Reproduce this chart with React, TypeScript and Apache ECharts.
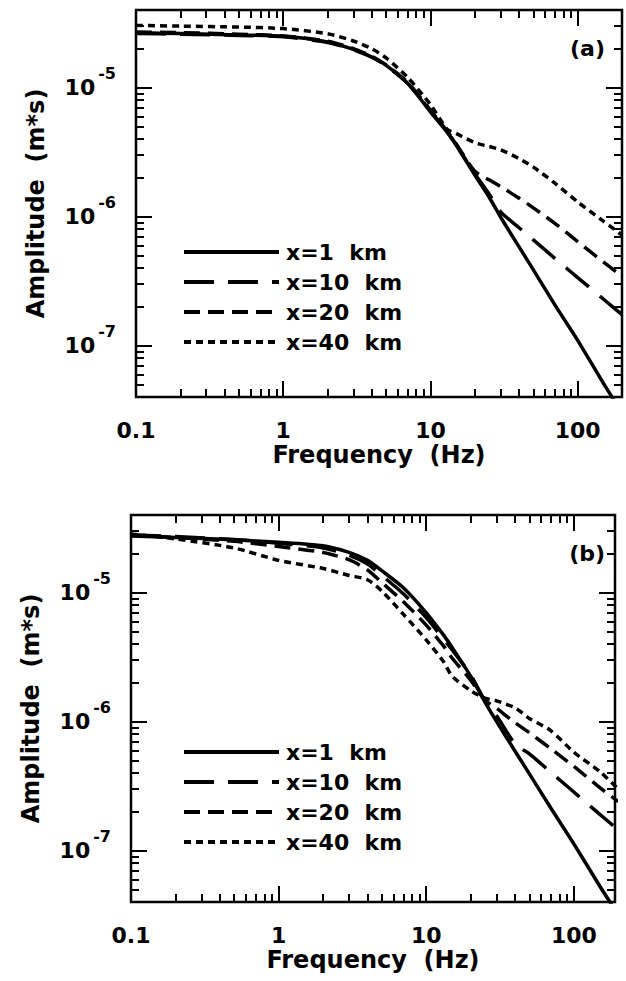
import React, { useEffect, useRef } from 'react';
import * as echarts from 'echarts';

// ---------- data ----------
const FREQ = [0.1, 0.2, 0.5, 1, 2, 3, 4, 5, 7, 10, 13, 15, 20, 25, 30, 40, 50, 70, 100, 150, 200];
const NAMES = ['x=1  km', 'x=10  km', 'x=20  km', 'x=40  km'];

// panel (a)
const A_X1 = [2.66e-5, 2.63e-5, 2.56e-5, 2.5e-5, 2.26e-5, 1.98e-5, 1.73e-5, 1.49e-5, 1.08e-5, 6.5e-6, 4.5e-6, 3.56e-6, 2.1e-6, 1.42e-6, 9.9e-7, 5.83e-7, 3.87e-7, 2.07e-7, 1.1e-7, 5.08e-8, 3.03e-8];
const A_X10 = [2.63e-5, 2.6e-5, 2.54e-5, 2.48e-5, 2.24e-5, 1.97e-5, 1.72e-5, 1.48e-5, 1.08e-5, 6.6e-6, 4.55e-6, 3.6e-6, 2.15e-6, 1.5e-6, 1.09e-6, 8.2e-7, 6.6e-7, 4.75e-7, 3.37e-7, 2.29e-7, 1.74e-7];
const A_X20 = [2.7e-5, 2.67e-5, 2.6e-5, 2.52e-5, 2.29e-5, 2.01e-5, 1.75e-5, 1.5e-5, 1.1e-5, 6.7e-6, 4.6e-6, 3.65e-6, 2.25e-6, 1.93e-6, 1.71e-6, 1.39e-6, 1.17e-6, 8.87e-7, 6.41e-7, 4.44e-7, 3.44e-7];
const A_X40 = [3.04e-5, 3.0e-5, 2.95e-5, 2.87e-5, 2.62e-5, 2.3e-5, 2.0e-5, 1.7e-5, 1.2e-5, 7.4e-6, 4.75e-6, 4.4e-6, 3.75e-6, 3.5e-6, 3.3e-6, 2.82e-6, 2.42e-6, 1.82e-6, 1.3e-6, 9.2e-7, 7.2e-7];

// panel (b)
const B_X1 = [2.75e-5, 2.68e-5, 2.57e-5, 2.46e-5, 2.31e-5, 2.05e-5, 1.78e-5, 1.48e-5, 1.09e-5, 6.98e-6, 4.75e-6, 3.75e-6, 2.25e-6, 1.42e-6, 1.0e-6, 5.9e-7, 3.94e-7, 2.13e-7, 1.13e-7, 5.3e-8, 3.18e-8];
const B_X10 = [2.8e-5, 2.72e-5, 2.58e-5, 2.42e-5, 2.22e-5, 1.95e-5, 1.67e-5, 1.36e-5, 9.8e-6, 6.4e-6, 4.4e-6, 3.6e-6, 2.3e-6, 1.45e-6, 1.11e-6, 6.7e-7, 5.62e-7, 4.04e-7, 2.85e-7, 1.91e-7, 1.45e-7];
const B_X20 = [2.8e-5, 2.68e-5, 2.5e-5, 2.28e-5, 2.05e-5, 1.8e-5, 1.5e-5, 1.2e-5, 8.5e-6, 5.6e-6, 3.9e-6, 3.1e-6, 2.1e-6, 1.47e-6, 1.27e-6, 9.8e-7, 8.2e-7, 6.16e-7, 4.5e-7, 3.08e-7, 2.4e-7];
const B_X40 = [2.85e-5, 2.61e-5, 2.22e-5, 1.78e-5, 1.54e-5, 1.36e-5, 1.26e-5, 1.03e-5, 6.8e-6, 4.3e-6, 2.95e-6, 2.25e-6, 1.74e-6, 1.52e-6, 1.45e-6, 1.28e-6, 1.06e-6, 8.5e-7, 5.8e-7, 4.1e-7, 3.0e-7];

// axes
const X_MIN = 0.1;
const X_MAX_A = 200;
const X_MAX_B = 190;
const Y_MIN = 4e-8;
const Y_MAX = 4e-5;
const X_MAJOR_TICKS = [1, 10, 100];
const X_MINOR_TICKS = [0.2, 0.3, 0.4, 0.5, 0.6, 0.7, 0.8, 0.9, 2, 3, 4, 5, 6, 7, 8, 9, 20, 30, 40, 50, 60, 70, 80, 90];
const Y_MAJOR_TICKS = [1e-7, 1e-6, 1e-5];
const Y_MINOR_TICKS = [5e-8, 6e-8, 7e-8, 8e-8, 9e-8, 2e-7, 3e-7, 4e-7, 5e-7, 6e-7, 7e-7, 8e-7, 9e-7, 2e-6, 3e-6, 4e-6, 5e-6, 6e-6, 7e-6, 8e-6, 9e-6, 2e-5, 3e-5];
const PANEL_LABELS = ['(a)', '(b)'];

// ---------- layout & styling ----------
const GRID_A = { left: 136, top: 10, width: 486, height: 387 };
const GRID_B = { left: 131, top: 515, width: 484, height: 387 };
const FONT = '"DejaVu Sans", "Liberation Sans", sans-serif';
const DASHES: any[] = ['solid', [30, 14], [16, 8], [7, 5]];
const MAJOR_LEN = 16;
const MINOR_LEN = 8;

const xFmt = (v: number) => {
  const e = Math.log10(v);
  const r = Math.round(e);
  if (Math.abs(e - r) > 1e-6) return '';
  return r < 0 ? Number(v).toFixed(-r) : String(Math.round(v));
};
const yFmt = (v: number) => {
  const e = Math.log10(v);
  const r = Math.round(e);
  if (Math.abs(e - r) > 1e-6) return '';
  return `{b|10}{s|${r}}`;
};

function makeXAxis(gridIndex: number, max: number) {
  return {
    type: 'log', logBase: 10, gridIndex, min: X_MIN, max,
    axisLine: { show: false, onZero: false }, axisTick: { show: false }, splitLine: { show: false },
    axisLabel: {
      margin: 22, fontSize: 22, fontWeight: 'bold', fontFamily: FONT, color: '#000',
      showMinLabel: true, showMaxLabel: true, formatter: xFmt,
    },
    name: 'Frequency  (Hz)', nameLocation: 'middle', nameGap: 46,
    nameTextStyle: { fontSize: 24, fontWeight: 'bold', fontFamily: FONT, color: '#000' },
  };
}
function makeYAxis(gridIndex: number) {
  return {
    type: 'log', logBase: 10, gridIndex, min: Y_MIN, max: Y_MAX,
    axisLine: { show: false, onZero: false }, axisTick: { show: false }, splitLine: { show: false },
    axisLabel: {
      margin: 20, color: '#000', fontFamily: FONT, showMinLabel: true, showMaxLabel: true,
      formatter: yFmt,
      rich: {
        b: { fontSize: 22, fontWeight: 'bold', fontFamily: FONT, color: '#000', lineHeight: 22, padding: [11, 0, 11, 0] },
        s: { fontSize: 16, fontWeight: 'bold', fontFamily: FONT, color: '#000', lineHeight: 16, padding: [0, 0, 28, 3] },
      },
    },
    name: 'Amplitude  (m*s)', nameLocation: 'middle', nameGap: 88, nameRotate: 90,
    nameTextStyle: { fontSize: 24, fontWeight: 'bold', fontFamily: FONT, color: '#000' },
  };
}

// inward tick marks on all four sides, as mark lines placed on the log axes
function tickMarkLine(xMax: number, grid: { width: number; height: number }) {
  const kx = (len: number) => Math.pow(10, (len * Math.log10(xMax / X_MIN)) / grid.width);
  const ky = (len: number) => Math.pow(10, (len * Math.log10(Y_MAX / Y_MIN)) / grid.height);
  const eps = 1.0005;
  const lo = Y_MIN * eps, hi = Y_MAX / eps, xl = X_MIN * eps, xh = xMax / eps;
  const data: any[] = [];
  const xt = [...X_MAJOR_TICKS.map((v) => [v, MAJOR_LEN]), ...X_MINOR_TICKS.map((v) => [v, MINOR_LEN])]
    .filter((d) => d[0] > X_MIN && d[0] < xMax);
  xt.forEach(([v, len]) => {
    data.push([{ coord: [v, lo] }, { coord: [v, Y_MIN * ky(len)] }]);
    data.push([{ coord: [v, hi] }, { coord: [v, Y_MAX / ky(len)] }]);
  });
  const yt = [...Y_MAJOR_TICKS.map((v) => [v, MAJOR_LEN]), ...Y_MINOR_TICKS.map((v) => [v, MINOR_LEN])]
    .filter((d) => d[0] > Y_MIN && d[0] < Y_MAX);
  yt.forEach(([v, len]) => {
    data.push([{ coord: [xl, v] }, { coord: [X_MIN * kx(len), v] }]);
    data.push([{ coord: [xh, v] }, { coord: [xMax / kx(len), v] }]);
  });
  return {
    silent: true, animation: false,
    symbol: ['none', 'none'],
    label: { show: false },
    emphasis: { disabled: true },
    lineStyle: { color: '#000', width: 2, type: 'solid', opacity: 1 },
    data,
  };
}

function lineSeries(idx: number, arrays: number[][], xMax: number, grid: { width: number; height: number }) {
  return arrays.map((arr, k) => ({
    type: 'line', name: NAMES[k], xAxisIndex: idx, yAxisIndex: idx,
    data: FREQ.map((f, i) => [f, arr[i]]),
    symbol: 'none', smooth: 0.25,
    lineStyle: { color: '#000', width: 3.5, type: DASHES[k] },
    itemStyle: { color: '#000' },
    z: 3,
    ...(k === 0 ? { markLine: tickMarkLine(xMax, grid) } : {}),
  }));
}

function legend(top: number) {
  return {
    data: NAMES, orient: 'vertical', left: 177, top,
    itemWidth: 95, itemHeight: 14, itemGap: 8, selectedMode: false,
    itemStyle: { opacity: 0 },
    lineStyle: { width: 4 },
    textStyle: { fontSize: 22, fontWeight: 'bold', fontFamily: FONT, color: '#000', lineHeight: 22, padding: [0, 0, 0, 2] },
  };
}

const option: any = {
  animation: false,
  grid: [
    { ...GRID_A, show: true, borderColor: '#000', borderWidth: 2.5, backgroundColor: 'transparent' },
    { ...GRID_B, show: true, borderColor: '#000', borderWidth: 2.5, backgroundColor: 'transparent' },
  ],
  xAxis: [makeXAxis(0, X_MAX_A), makeXAxis(1, X_MAX_B)],
  yAxis: [makeYAxis(0), makeYAxis(1)],
  legend: [legend(236), legend(736)],
  graphic: [
    { type: 'text', right: 21, top: 37, style: { text: PANEL_LABELS[0], font: `bold 22px ${FONT}`, fill: '#000' } },
    { type: 'text', right: 21, top: 542, style: { text: PANEL_LABELS[1], font: `bold 22px ${FONT}`, fill: '#000' } },
  ],
  series: [
    ...lineSeries(0, [A_X1, A_X10, A_X20, A_X40], X_MAX_A, GRID_A),
    ...lineSeries(1, [B_X1, B_X10, B_X20, B_X40], X_MAX_B, GRID_B),
  ],
};

export default function App() {
  const ref = useRef<HTMLDivElement>(null);
  useEffect(() => {
    const chart = echarts.init(ref.current as HTMLDivElement, null, { renderer: 'svg' });
    chart.setOption(option);
    return () => chart.dispose();
  }, []);
  return (
    <div
      ref={ref}
      style={{ position: 'absolute', left: 0, top: 0, width: 626, height: 981, background: '#fff' }}
    />
  );
}
